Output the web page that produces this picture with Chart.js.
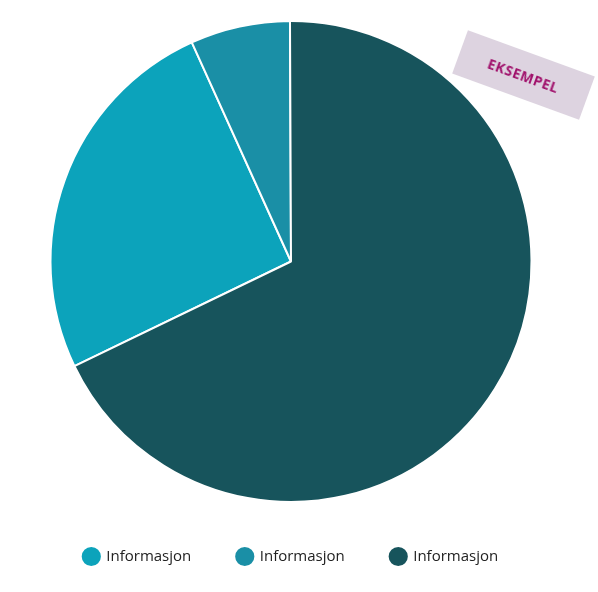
<!DOCTYPE html>
<html><head><meta charset="utf-8">
<script src="https://cdn.jsdelivr.net/npm/chart.js@4/dist/chart.umd.min.js"></script>
<style>
body{margin:0;background:#fff;}
#wrap{position:relative;width:598px;height:592px;}
#stamp{position:absolute;left:456px;top:52px;width:135px;height:46px;background:#ddd3e0;transform:rotate(20deg);
color:#a0106b;font:bold 14px "Open Sans";display:flex;align-items:center;justify-content:center;letter-spacing:0.5px;}
</style></head>
<body><div id="wrap"><canvas id="c" width="598" height="592"></canvas><div id="stamp">EKSEMPEL</div></div>
<script>
var labels = ["Informasjon", "Informasjon", "Informasjon"];
var values = [25.4, 6.7, 67.9];
var colors = ["#0ca3bb", "#1a8fa6", "#17545c"];

new Chart(document.getElementById("c"), {
    type: 'pie',
    data: {
        labels: labels,
        datasets: [{data: values, backgroundColor: colors, borderColor: "#fff", borderWidth: 2}]
    },
    options: {
        responsive: false,
        animation: false,
        rotation: 244.2,
        layout: {padding: {top: 20, bottom: 18, left: 0, right: 16}},
        plugins: {
            tooltip: {enabled: false},
            legend: {
                position: 'bottom',
                labels: {
                    usePointStyle: true,
                    boxHeight: 24,
                    boxWidth: 24,
                    padding: 46,
                    color: "#222",
                    font: {family: "Open Sans", size: 15}
                }
            }
        }
    }
});
</script></body></html>
